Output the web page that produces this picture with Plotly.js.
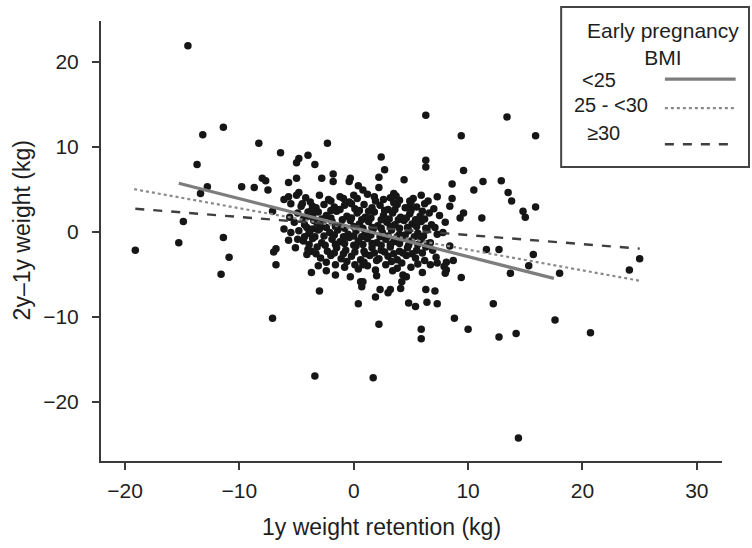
<!DOCTYPE html>
<html>
<head>
<meta charset="utf-8">
<script src="https://cdn.plot.ly/plotly-3.0.1.min.js"></script>
<style>html,body{margin:0;padding:0;background:#fff;}#chart{width:752px;height:548px;}</style>
</head>
<body>
<div id="chart"></div>
<script>
// Scatter points: 1y weight retention (kg) vs 2y-1y weight (kg)
const retentionX = [
  -14.5,-11.4,-13.2,-8.3,-6.4,-4.0,-4.8,-5.0,-3.4,-13.7,-8.0,-7.7,-5.0,-5.7,-12.8,-9.8,-8.7,-7.5,-13.4,-4.8,
  -5.0,-5.7,-6.1,-5.5,-4.5,-7.1,-5.6,-14.9,-6.1,-5.5,-15.3,-11.4,-19.1,-6.8,-5.7,-4.9,
  -3.6,-4.0,-3.6,-3.2,-4.1,-3.6,-3.1,-3.9,-3.4,
  -10.9,-11.6,-7.1,-3.4,-7.0,-6.8,-5.1,-4.1,-3.7,-3.7,-3.1,-3.0,
  6.3,13.4,9.4,15.9,-2.3,2.4,6.3,6.3,2.7,9.6,-2.8,-1.8,-1.8,-0.3,-0.4,2.2,4.4,8.6,11.3,12.9,10.5,13.5,13.8,15.9,
  14.8,15.0,11.2,9.6,9.3,8.6,8.4,7.3,5.9,8.0,4.9,4.9,3.5,3.7,2.2,0.4,0.8,1.8,-0.9,0.0,-0.2,
  11.6,12.7,15.7,15.3,13.7,9.4,7.3,8.4,6.9,7.2,8.1,8.7,8.1,8.0,
  1.7,14.4,2.2,5.9,5.9,8.8,10.0,12.7,14.2,12.2,0.4,4.8,5.4,6.4,7.3,1.9,2.3,3.0,3.2,4.1,6.3,7.1,
  -2.4,-1.6,-1.6,-0.3,0.6,0.7,0.8,0.1,0.8,1.9,2.0,3.8,4.3,4.6,4.2,6.0,6.7,7.3,7.9,
  18.0,25.0,24.1,17.6,20.7,
  -4.2,-3.0,-2.2,-1.2,0.3,1.2,2.6,3.2,4.0,5.2,6.5,
  -4.6,-3.3,-2.6,-1.7,-0.8,0.1,0.9,1.6,2.3,3.0,3.8,4.5,5.5,6.2,7.0,
  -4.9,-4.0,-3.1,-2.4,-1.5,-0.6,0.3,1.0,1.8,2.6,3.4,4.1,4.9,5.8,6.6,7.5,
  -5.2,-4.3,-3.5,-2.7,-1.9,-1.1,-0.3,0.5,1.3,2.1,2.9,3.6,4.4,5.1,5.9,6.8,
  -4.8,-3.9,-3.0,-2.1,-1.4,-0.5,0.2,1.0,1.7,2.5,3.3,4.0,4.8,5.6,6.4,7.8,
  -4.4,-3.6,-2.8,-1.9,-1.2,-0.4,0.4,1.2,2.0,2.8,3.5,4.3,5.0,5.9,6.7,
  -4.0,-3.2,-2.3,-1.5,-0.7,0.2,0.9,1.6,2.4,3.2,4.0,4.7,5.5,6.3,
  -2.9,-2.0,-1.1,-0.2,0.6,1.4,2.2,3.0,3.8,4.6,5.4,
  -0.8,0.4,1.2,2.8,3.4,5.0,5.6,
  -3.8,-2.0,-0.4,1.9,3.5,5.0,
  -3.7,-2.0,-1.2,0.5,1.3,2.7,3.6,5.0,6.0,
  -4.4,-2.8,-2.0,-1.0,-0.2,0.7,1.5,2.4,3.1,3.9,4.6,5.4,6.2,
  -2.4,-1.6,-0.8,0.0,0.8,1.6,2.4,3.2,4.0,4.7,5.5,6.3,7.1,
  -4.3,-2.6,-1.7,-0.9,0.0,0.7,1.5,2.3,3.0,3.8,4.5,5.3,6.1,
  -3.9,-2.5,-1.6,-0.8,0.0,0.8,1.6,2.4,3.2,4.0,4.8,5.6,6.5,
  -3.3,-1.7,-0.9,0.1,1.0,1.8,2.7,3.5,4.3,5.1,6.0,
  -2.4,-0.6,0.9,2.0,3.3,4.2,6.2
];
const changeY = [
  21.9,12.3,11.4,10.4,9.3,9.0,8.6,8.1,7.9,7.9,6.3,6.0,6.3,5.8,5.3,5.3,5.2,4.9,4.5,4.6,
  4.3,4.1,3.8,3.3,3.3,2.4,1.7,1.2,0.3,-0.1,-1.3,-0.7,-2.2,-2.0,-1.0,-0.9,
  3.0,2.3,1.9,1.0,0.5,0.3,0.2,-0.2,-0.6,
  -3.0,-5.0,-10.2,-17.0,-2.4,-3.9,-1.9,-2.7,-2.3,-4.8,-4.0,-7.0,
  13.7,13.5,11.3,11.3,10.4,8.8,8.4,7.6,7.3,7.2,6.3,6.8,5.9,6.3,5.9,6.4,6.1,5.6,5.9,6.0,4.9,4.6,3.6,2.9,
  2.4,1.7,1.6,2.2,1.6,3.9,3.0,4.1,4.3,1.1,3.6,3.0,4.5,4.2,5.2,5.4,4.9,4.1,3.9,4.3,3.3,
  -2.1,-2.1,-2.7,-4.0,-4.9,-5.4,-0.3,-1.7,-2.2,-3.0,-3.6,-3.4,-4.5,-4.9,
  -17.2,-24.3,-10.9,-11.5,-12.6,-10.2,-11.5,-12.4,-12.0,-8.5,-8.5,-8.4,-8.8,-8.3,-8.5,-7.7,-6.8,-7.2,-6.8,-6.7,-6.8,-7.0,
  -4.6,-5.1,-3.9,-5.3,-5.9,-6.5,-5.9,-3.9,-3.9,-4.5,-5.2,-4.3,-5.1,-5.3,-5.9,-4.8,-3.9,-3.7,-4.1,
  -4.9,-3.2,-4.5,-10.4,-11.9,
  4.0,4.3,3.8,4.1,3.9,4.4,3.8,4.0,3.7,3.9,3.6,
  3.0,2.8,3.2,2.9,3.1,2.7,3.2,2.8,3.1,2.6,3.2,2.8,2.9,3.3,2.7,
  2.2,1.8,2.3,1.9,2.4,1.8,2.2,1.7,2.3,1.9,2.2,1.7,2.1,1.8,2.2,1.9,
  1.1,0.8,1.3,0.9,1.2,0.7,1.3,0.9,1.2,0.7,1.1,0.8,1.3,0.9,1.2,0.8,
  0.1,-0.2,0.3,-0.1,0.2,-0.3,0.1,-0.2,0.3,-0.1,0.2,-0.3,0.1,-0.2,0.2,-0.1,
  -1.1,-0.8,-1.3,-0.9,-1.2,-0.7,-1.1,-0.8,-1.3,-0.9,-1.2,-0.8,-1.1,-0.9,-1.3,
  -2.1,-1.8,-2.3,-1.9,-2.2,-1.7,-2.3,-1.9,-2.2,-1.8,-2.3,-1.9,-2.2,-1.8,
  -3.1,-2.8,-3.2,-2.9,-3.3,-2.8,-3.2,-2.9,-3.3,-2.8,-3.1,
  -4.2,-4.4,-4.0,-3.9,-4.6,-4.2,-3.8,
  3.5,3.6,3.5,3.6,3.4,3.5,
  2.5,2.5,2.6,2.5,2.4,2.5,2.6,2.5,2.4,
  1.5,1.5,1.6,1.4,1.6,1.4,1.6,1.4,1.5,1.4,1.6,1.4,1.5,
  0.5,0.6,0.4,0.6,0.4,0.5,0.4,0.6,0.4,0.5,0.6,0.4,0.5,
  -0.6,-0.5,-0.4,-0.6,-0.5,-0.6,-0.4,-0.6,-0.5,-0.6,-0.4,-0.6,-0.5,
  -1.5,-1.6,-1.5,-1.4,-1.6,-1.5,-1.4,-1.6,-1.5,-1.4,-1.6,-1.5,-1.4,
  -2.6,-2.5,-2.6,-2.4,-2.6,-2.5,-2.4,-2.6,-2.5,-2.6,-2.5,
  -3.6,-3.5,-3.6,-3.4,-3.5,-3.7,-3.4
];

// Fitted lines by early pregnancy BMI group (endpoints)
const groupNames = ["<25", "25 - <30", "\u226530"];
const fitLt25X = [-15.3, 17.5];
const fitLt25Y = [5.7, -5.5];
const fit25to30X = [-19.2, 25.1];
const fit25to30Y = [5.0, -5.8];
const fitGe30X = [-19.1, 25.0];
const fitGe30Y = [2.7, -2.0];

const xTicks = [-20, -10, 0, 10, 20, 30];
const yTicks = [-20, -10, 0, 10, 20];
const xTitle = '1y weight retention (kg)';
const yTitle = '2y\u20131y weight (kg)';
const legendTitle = 'Early pregnancy<br>BMI';

const FONT = '"Liberation Sans", Arial, Helvetica, sans-serif';
const TXT = '#1e1e1e';
const lineStyles = [
  {color: '#7d7d7d', width: 3.2, dash: 'solid'},
  {color: '#8a8a8a', width: 2.2, dash: 'dot'},
  {color: '#3f3f3f', width: 2.4, dash: 'dash'}
];

const traces = [
  {x: retentionX, y: changeY, type: 'scatter', mode: 'markers',
   marker: {color: '#161616', size: 7.5, line: {width: 0}}, hoverinfo: 'x+y'},
  {x: fitLt25X, y: fitLt25Y, type: 'scatter', mode: 'lines', name: groupNames[0], line: lineStyles[0]},
  {x: fit25to30X, y: fit25to30Y, type: 'scatter', mode: 'lines', name: groupNames[1], line: lineStyles[1]},
  {x: fitGe30X, y: fitGe30Y, type: 'scatter', mode: 'lines', name: groupNames[2], line: lineStyles[2]}
];

// Custom legend (text left, line sample right) in paper coordinates
const legendLineY = [0.868, 0.802, 0.720];
const legendTextY = [0.866, 0.809, 0.745];
const legendTextX = [0.771, 0.758, 0.779];
const shapes = [
  {type: 'rect', xref: 'paper', yref: 'paper', x0: 0.741, x1: 1.0435, y0: 0.668, y1: 1.032,
   line: {color: '#444', width: 2}, fillcolor: '#fff', layer: 'above'}
];
const annotations = [
  {xref: 'paper', yref: 'paper', x: 0.905, y: 0.947, text: legendTitle, showarrow: false,
   xanchor: 'center', yanchor: 'middle', align: 'center',
   font: {family: FONT, size: 21, color: TXT}},
  {xref: 'paper', yref: 'paper', x: 0.452, y: -0.15, text: xTitle, showarrow: false,
   xanchor: 'center', yanchor: 'middle', font: {family: FONT, size: 23, color: TXT}},
  {xref: 'paper', yref: 'paper', x: -0.128, y: 0.523, text: yTitle, showarrow: false, textangle: -90,
   xanchor: 'center', yanchor: 'middle', font: {family: FONT, size: 23, color: TXT}}
];
groupNames.forEach((g, i) => {
  shapes.push({type: 'line', xref: 'paper', yref: 'paper', x0: 0.908, x1: 1.022,
    y0: legendLineY[i], y1: legendLineY[i], line: lineStyles[i], layer: 'above'});
  annotations.push({xref: 'paper', yref: 'paper', x: legendTextX[i], y: legendTextY[i],
    text: g.replace('<', '&lt;'), showarrow: false, xanchor: 'left', yanchor: 'middle',
    font: {family: FONT, size: 20, color: TXT}});
});

const axisCommon = {
  showgrid: false, zeroline: false, showline: true, linecolor: '#3a3a3a', linewidth: 2,
  ticks: 'outside', ticklen: 7, tickwidth: 2, tickcolor: '#3a3a3a',
  tickfont: {family: FONT, size: 21, color: TXT}
};

const layout = {
  width: 752, height: 548,
  margin: {l: 101, r: 30, t: 21, b: 87, pad: 0},
  paper_bgcolor: '#fff', plot_bgcolor: '#fff',
  showlegend: false,
  font: {family: FONT, color: TXT},
  xaxis: Object.assign({}, axisCommon, {
    range: [-22.1, 32.2], tickmode: 'array', tickvals: xTicks, ticklabelstandoff: 3
  }),
  yaxis: Object.assign({}, axisCommon, {
    range: [-27, 24.8], tickmode: 'array', tickvals: yTicks, ticklabelstandoff: 9
  }),
  shapes: shapes,
  annotations: annotations
};

Plotly.newPlot('chart', traces, layout, {displayModeBar: false, staticPlot: true});
</script>
</body>
</html>
